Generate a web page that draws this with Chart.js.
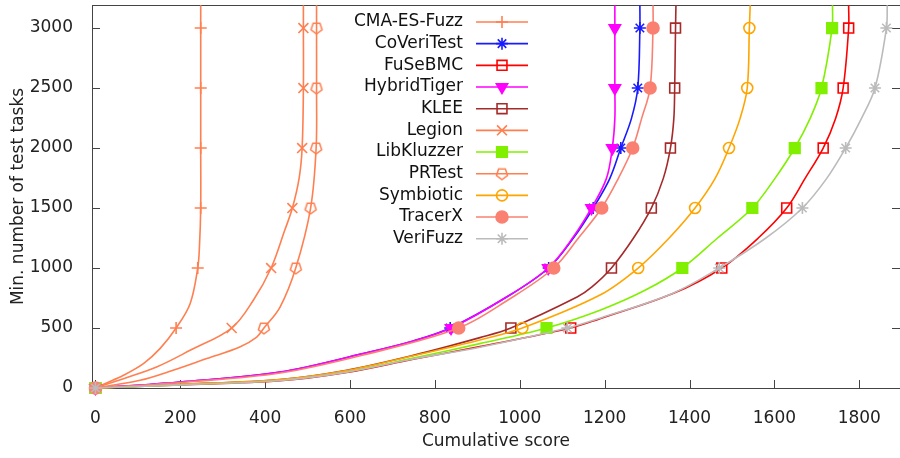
<!DOCTYPE html>
<html>
<head>
<meta charset="utf-8">
<script src="https://cdn.jsdelivr.net/npm/chart.js@4/dist/chart.umd.min.js"></script>
<style>
  html, body { margin: 0; padding: 0; background: #fff; }
  #wrap { width: 900px; height: 458px; }
</style>
</head>
<body>
<div id="wrap"><canvas id="quantileChart"></canvas></div>
<script>
// values: number of test tasks (y) vs cumulative score (x)
const seriesNames = ['CMA-ES-Fuzz', 'CoVeriTest', 'FuSeBMC', 'HybridTiger', 'KLEE', 'Legion',
  'LibKluzzer', 'PRTest', 'Symbiotic', 'TracerX', 'VeriFuzz'];

const xTicks = [0, 200, 400, 600, 800, 1000, 1200, 1400, 1600, 1800];
const yTicks = [0, 500, 1000, 1500, 2000, 2500, 3000];

const cmaTasks = [0, 36, 106, 203, 328, 500, 703, 1000, 1175, 1500, 2000, 2500, 3000, 3190];
const cmaScores = [0, 22, 66, 113, 152, 190, 223, 241, 245, 248, 248, 248, 248, 248];

const coveriTasks = [0, 50, 133, 287, 392, 500, 758, 1000, 1258, 1500, 1745, 2000, 2245, 2500, 3000, 3190];
const coveriScores = [0, 200, 435, 631, 749, 836, 969, 1068, 1128, 1173, 1212, 1238, 1263, 1278, 1283, 1283];

const fusebmcTasks = [0, 25, 60, 130, 240, 345, 500, 578, 787, 1000, 1250, 1500, 1745, 2000, 2245, 2500, 3000, 3190];
const fusebmcScores = [0, 200, 435, 592, 749, 906, 1120, 1189, 1361, 1476, 1562, 1629, 1672, 1715, 1744, 1762, 1775, 1775];

const hybridTasks = [0, 50, 133, 287, 392, 500, 758, 1000, 1258, 1500, 1745, 2000, 2245, 2500, 3000, 3190];
const hybridScores = [0, 200, 435, 631, 749, 838, 969, 1067, 1126, 1169, 1204, 1218, 1224, 1224, 1224, 1224];

const kleeTasks = [0, 30, 70, 148, 272, 420, 500, 758, 842, 1000, 1250, 1500, 1745, 2000, 2245, 2500, 3000, 3190];
const kleeScores = [0, 200, 435, 592, 749, 906, 979, 1135, 1170, 1216, 1268, 1310, 1338, 1355, 1363, 1365, 1367, 1368];

const legionTasks = [0, 78, 175, 314, 500, 731, 1000, 1314, 1500, 1750, 2000, 2500, 3000, 3190];
const legionScores = [0, 66, 144, 223, 321, 372, 414, 446, 464, 480, 487, 490, 490, 490];

const libkTasks = [0, 28, 65, 135, 250, 370, 500, 648, 814, 1000, 1250, 1500, 1745, 2000, 2245, 2500, 3000, 3190];
const libkScores = [0, 200, 435, 592, 749, 906, 1063, 1189, 1295, 1383, 1466, 1548, 1601, 1648, 1684, 1711, 1736, 1737];

const prtestTasks = [0, 64, 148, 245, 342, 425, 500, 675, 1000, 1500, 2000, 2500, 3000, 3190];
const prtestScores = [0, 105, 183, 262, 340, 380, 397, 435, 472, 507, 520, 521, 521, 521];

const symbTasks = [0, 30, 70, 145, 268, 400, 500, 775, 1000, 1250, 1500, 1745, 2000, 2245, 2500, 3000, 3190];
const symbScores = [0, 200, 435, 592, 749, 906, 1006, 1189, 1279, 1352, 1413, 1460, 1493, 1519, 1536, 1541, 1543];

const tracerTasks = [0, 50, 125, 275, 500, 740, 1000, 1258, 1500, 1745, 2000, 2245, 2500, 3000, 3190];
const tracerScores = [0, 215, 435, 631, 856, 975, 1080, 1140, 1193, 1232, 1266, 1287, 1307, 1314, 1314];

const verifuzzTasks = [0, 26, 62, 132, 242, 340, 500, 582, 790, 1000, 1250, 1500, 1745, 2000, 2245, 2500, 3000, 3190];
const verifuzzScores = [0, 200, 435, 592, 749, 906, 1112, 1189, 1361, 1470, 1580, 1666, 1723, 1768, 1805, 1837, 1864, 1866];

const allTasks = [cmaTasks, coveriTasks, fusebmcTasks, hybridTasks, kleeTasks, legionTasks,
  libkTasks, prtestTasks, symbTasks, tracerTasks, verifuzzTasks];
const allScores = [cmaScores, coveriScores, fusebmcScores, hybridScores, kleeScores, legionScores,
  libkScores, prtestScores, symbScores, tracerScores, verifuzzScores];

// open pentagon marker for PRTest (no built-in style for it)
function makePentagon(color) {
  const c = document.createElement('canvas');
  c.width = 16; c.height = 16;
  const g = c.getContext('2d');
  g.strokeStyle = color;
  g.lineWidth = 1.5;
  g.beginPath();
  for (let k = 0; k < 5; k++) {
    const a = Math.PI / 2 + k * 2 * Math.PI / 5;
    const px = 8 + 5.8 * Math.cos(a), py = 8 + 5.8 * Math.sin(a);
    if (k === 0) g.moveTo(px, py); else g.lineTo(px, py);
  }
  g.closePath();
  g.stroke();
  return c;
}

const coral = '#ff7f50';
const styles = [
  { color: coral, point: 'cross', r: 6, fill: false },
  { color: '#1a1aff', point: 'star', r: 6, fill: false },
  { color: '#ff0000', point: 'rect', r: 7, fill: false },
  { color: '#ff00ff', point: 'triangle', r: 6.5, fill: true, rot: 180 },
  { color: '#a52a2a', point: 'rect', r: 7, fill: false },
  { color: coral, point: 'crossRot', r: 7, fill: false },
  { color: '#80f000', point: 'rect', r: 7.5, fill: true },
  { color: coral, point: makePentagon(coral), r: 6, fill: false },
  { color: '#ffa500', point: 'circle', r: 5.5, fill: false },
  { color: '#fa8072', point: 'circle', r: 6, fill: true },
  { color: '#bbbbbb', point: 'star', r: 6, fill: false }
];

const datasets = seriesNames.map((name, i) => {
  const s = styles[i];
  return {
    label: name,
    data: allTasks[i].map((t, j) => ({ x: allScores[i][j], y: t })),
    borderColor: s.color,
    borderWidth: 1.6,
    tension: 0.35,
    pointStyle: s.point,
    pointRotation: s.rot || 0,
    pointBorderColor: s.color,
    pointBorderWidth: 1.6,
    pointBackgroundColor: s.fill ? s.color : 'rgba(0,0,0,0)',
    pointRadius: ctx => (ctx.raw && ctx.raw.y % 500 === 0 && ctx.raw.y <= 3000) ? s.r : 0,
    order: seriesNames.length - i,
    clip: { left: 12, bottom: 12, top: 0, right: 0 }
  };
});

const frameAndLegend = {
  id: 'frameAndLegend',
  beforeDatasetsDraw(chart) {
    const { ctx, chartArea: a, scales } = chart;
    ctx.save();
    ctx.strokeStyle = '#444';
    ctx.lineWidth = 1;
    ctx.strokeRect(a.left + 0.5, a.top + 0.5, a.right - a.left, a.bottom - a.top);
    ctx.beginPath();
    xTicks.forEach(v => {
      const x = Math.round(scales.x.getPixelForValue(v)) + 0.5;
      ctx.moveTo(x, a.bottom); ctx.lineTo(x, a.bottom - 8);
    });
    yTicks.forEach(v => {
      const y = Math.round(scales.y.getPixelForValue(v)) + 0.5;
      ctx.moveTo(a.left, y); ctx.lineTo(a.left + 8, y);
      ctx.moveTo(a.right, y); ctx.lineTo(a.right - 8, y);
    });
    ctx.stroke();
    ctx.restore();
  },
  afterDatasetsDraw(chart) {
    const { ctx } = chart;
    ctx.save();
    ctx.font = '17px "DejaVu Sans"';
    ctx.textAlign = 'right';
    ctx.textBaseline = 'middle';
    chart.data.datasets.forEach((ds, i) => {
      const s = styles[i];
      const y = 22 + i * 21.67;
      ctx.fillStyle = '#111';
      ctx.fillText(ds.label, 463, y);
      ctx.strokeStyle = s.color;
      ctx.lineWidth = 1.6;
      ctx.beginPath();
      ctx.moveTo(476, y); ctx.lineTo(528, y);
      ctx.stroke();
      ctx.fillStyle = s.fill ? s.color : 'rgba(0,0,0,0)';
      Chart.helpers.drawPoint(ctx, {
        pointStyle: s.point, radius: s.r, rotation: s.rot || 0, borderWidth: 1.6
      }, 502, y);
    });
    ctx.restore();
  }
};

const tickFont = { family: '"DejaVu Sans"', size: 17 };

new Chart(document.getElementById('quantileChart'), {
  type: 'line',
  data: { datasets: datasets },
  options: {
    indexAxis: 'y',
    responsive: true,
    maintainAspectRatio: false,
    animation: false,
    events: [],
    layout: { autoPadding: false, padding: { top: 5, right: 0, left: 0, bottom: 0 } },
    plugins: { legend: { display: false }, tooltip: { enabled: false } },
    scales: {
      x: {
        type: 'linear',
        min: -8.2,
        max: 1896,
        grid: { display: false },
        border: { display: false },
        afterFit(scale) { scale.height = 70; scale.paddingLeft = 0; scale.paddingRight = 0; },
        afterBuildTicks(scale) { scale.ticks = xTicks.map(v => ({ value: v })); },
        ticks: { font: tickFont, color: '#222', padding: 12, maxRotation: 0, callback: v => String(v) },
        title: { display: true, text: 'Cumulative score', font: tickFont, color: '#222', padding: { top: 0, bottom: 6 } }
      },
      y: {
        type: 'linear',
        min: 0,
        max: 3192,
        grid: { display: false },
        border: { display: false },
        afterFit(scale) { scale.width = 92; scale.paddingTop = 0; scale.paddingBottom = 0; },
        afterBuildTicks(scale) { scale.ticks = yTicks.map(v => ({ value: v })); },
        ticks: { font: tickFont, color: '#222', padding: 11, callback: v => String(v) },
        title: { display: true, text: 'Min. number of test tasks', font: tickFont, color: '#222', padding: { top: 8, bottom: 0 } }
      }
    }
  },
  plugins: [frameAndLegend]
});
</script>
</body>
</html>
